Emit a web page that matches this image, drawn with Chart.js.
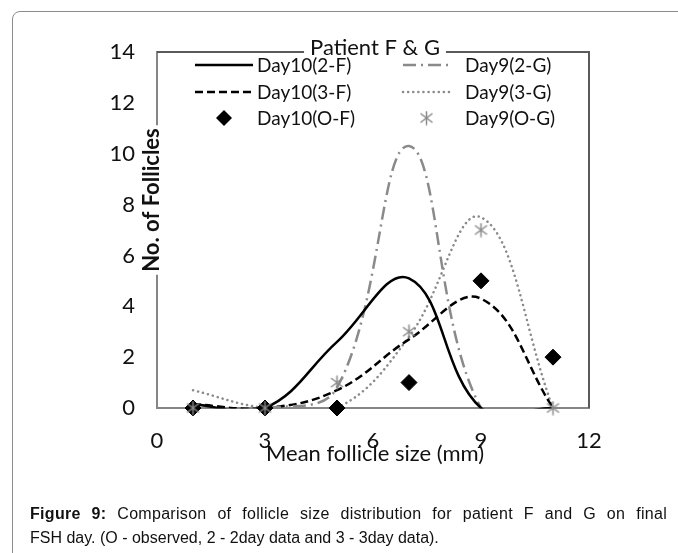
<!DOCTYPE html>
<html lang="en">
<head>
    <meta charset="UTF-8">
    <title>Figure 9 - Follicle size distribution, patient F and G</title>
    <script src="https://cdn.jsdelivr.net/npm/chart.js"></script>
    <style>
        html, body {
            margin: 0;
            padding: 0;
            background: #fff;
            width: 678px;
            height: 553px;
            overflow: hidden;
        }
        .card {
            position: absolute;
            left: 12px;
            top: 11px;
            width: 800px;
            height: 700px;
            border: 1px solid #8c8c8c;
            border-top-left-radius: 8px;
        }
        #follicleChart {
            position: absolute;
            left: 0;
            top: 0;
        }
        .caption {
            position: absolute;
            left: 30px;
            top: 502px;
            width: 637px;
            font-family: "Liberation Sans", Arial, sans-serif;
            font-size: 16px;
            line-height: 24px;
            color: #111;
        }
        .caption .l1 {
            display: block;
            text-align: justify;
            text-align-last: justify;
            white-space: nowrap;
            letter-spacing: 0.3px;
        }
    </style>
</head>
<body>
<div class="card"></div>
<canvas id="follicleChart" width="678" height="553"></canvas>
<div class="caption"><span class="l1"><b>Figure 9:</b> Comparison of follicle size distribution for patient F and G on final</span>FSH day. (O - observed, 2 - 2day data and 3 - 3day data).</div>

<script>
    // mean follicle size (mm) and follicle counts
    const sizes = [1, 3, 5, 7, 9, 11];
    const day10_2F = [0.15, 0, 2.6, 5.1, 0, 0];
    const day10_3F = [0.15, 0, 0.7, 2.7, 4.3, 0];
    const day9_2G = [0, 0, 0.8, 10.3, 0, 0];
    const day9_3G = [0.7, 0, 0, 2.8, 7.5, 0];
    const day10_OF = [0, 0, 0, 1, 5, 2];
    const day9_OG = [0, 0, 1, 3, 7, 0];

    const xTicks = [0, 3, 6, 9, 12];
    const yTicks = [0, 2, 4, 6, 8, 10, 12, 14];

    const chartTitle = 'Patient F & G';
    const xTitle = 'Mean follicle size (mm)';
    const yTitle = 'No. of Follicles';

    const fontFamily = 'Lato, "Open Sans", sans-serif';
    const grey = '#8a8a8a';

    const pts = ys => sizes.map((x, i) => ({ x: x, y: ys[i] }));

    // asterisk marker like the excel "star" (vertical bar + X)
    const starMarker = document.createElement('canvas');
    starMarker.width = 15;
    starMarker.height = 15;
    (function () {
        const c = starMarker.getContext('2d');
        c.strokeStyle = grey;
        c.lineWidth = 1.5;
        c.beginPath();
        c.moveTo(7.5, 0.5); c.lineTo(7.5, 14.5);
        c.moveTo(1.5, 3); c.lineTo(13.5, 12);
        c.moveTo(13.5, 3); c.lineTo(1.5, 12);
        c.stroke();
    })();

    const lineClip = { left: 3, top: 3, right: 3, bottom: 0.5 };

    const datasets = [
        {
            label: 'Day10(2-F)', data: pts(day10_2F),
            borderColor: '#000', borderWidth: 2.5, tension: 0.4,
            pointRadius: 0, clip: lineClip, order: 3
        },
        {
            label: 'Day9(2-G)', data: pts(day9_2G),
            borderColor: grey, borderWidth: 2.5, tension: 0.4,
            borderDash: [13, 5, 2, 5],
            pointRadius: 0, clip: lineClip, order: 4
        },
        {
            label: 'Day10(3-F)', data: pts(day10_3F),
            borderColor: '#000', borderWidth: 2.5, tension: 0.4,
            borderDash: [8, 4],
            pointRadius: 0, clip: lineClip, order: 5
        },
        {
            label: 'Day9(3-G)', data: pts(day9_3G),
            borderColor: grey, borderWidth: 2.5, tension: 0.4,
            borderDash: [0.1, 5], borderCapStyle: 'round',
            pointRadius: 0, clip: lineClip, order: 6
        },
        {
            label: 'Day10(O-F)', data: pts(day10_OF),
            showLine: false, pointStyle: 'rectRot', pointRadius: 8,
            backgroundColor: '#000', borderColor: '#000', borderWidth: 1,
            clip: false, order: 2
        },
        {
            label: 'Day9(O-G)', data: pts(day9_OG),
            showLine: false, pointStyle: starMarker, pointRadius: 7,
            backgroundColor: grey, borderColor: grey,
            clip: false, order: 1
        }
    ];

    // frame, titles and the two-column legend the way excel laid them out
    const decorPlugin = {
        id: 'decor',
        beforeDatasetsDraw(chart) {
            const ctx = chart.ctx;
            const a = chart.chartArea;
            ctx.save();
            ctx.strokeStyle = '#5a5a5a';
            ctx.lineWidth = 2;
            ctx.beginPath();
            ctx.moveTo(a.left, a.top);
            ctx.lineTo(a.right, a.top);
            ctx.lineTo(a.right, a.bottom);
            ctx.stroke();
            ctx.restore();
        },
        afterDraw(chart) {
            const ctx = chart.ctx;
            const a = chart.chartArea;
            const cx = 375;
            ctx.save();

            // title over the top border
            ctx.font = '22px ' + fontFamily;
            ctx.textBaseline = 'middle';
            ctx.textAlign = 'center';
            const tw = ctx.measureText(chartTitle).width;
            ctx.fillStyle = '#fff';
            ctx.fillRect(cx - tw / 2 - 6, a.top - 4, tw + 12, 8);
            ctx.fillStyle = '#111';
            ctx.fillText(chartTitle, cx, a.top - 4);

            // y title sitting on the axis line
            ctx.font = 'bold 22px ' + fontFamily;
            const yw = ctx.measureText(yTitle).width;
            const ymid = 200;
            ctx.fillStyle = '#fff';
            ctx.fillRect(a.left - 16, ymid - yw / 2 - 3, 20, yw + 6);
            ctx.translate(a.left - 5, ymid);
            ctx.rotate(-Math.PI / 2);
            ctx.fillStyle = '#111';
            ctx.fillText(yTitle, 0, 0);
            ctx.setTransform(1, 0, 0, 1, 0, 0);

            // x title overlapping the tick labels
            ctx.font = '22px ' + fontFamily;
            ctx.fillStyle = '#111';
            ctx.fillText(xTitle, cx, 454);

            // legend
            const rows = [65, 92, 118];
            const cols = [
                { x0: 195, x1: 253, tx: 257 },
                { x0: 403, x1: 450, tx: 465 }
            ];
            const order = [[0, 1], [2, 3], [4, 5]];
            ctx.font = '19px ' + fontFamily;
            ctx.textAlign = 'left';
            order.forEach((pair, r) => {
                pair.forEach((di, c) => {
                    const ds = chart.data.datasets[di];
                    const col = cols[c];
                    const y = rows[r];
                    if (ds.showLine === false) {
                        const mx = (col.x0 + col.x1) / 2;
                        if (ds.pointStyle === 'rectRot') {
                            ctx.fillStyle = ds.backgroundColor;
                            ctx.beginPath();
                            ctx.moveTo(mx, y - 8);
                            ctx.lineTo(mx + 8, y);
                            ctx.lineTo(mx, y + 8);
                            ctx.lineTo(mx - 8, y);
                            ctx.closePath();
                            ctx.fill();
                        } else {
                            ctx.drawImage(ds.pointStyle, mx - 7.5, y - 7.5);
                        }
                    } else {
                        ctx.strokeStyle = ds.borderColor;
                        ctx.lineWidth = ds.borderWidth;
                        ctx.lineCap = ds.borderCapStyle || 'butt';
                        ctx.setLineDash(ds.borderDash || []);
                        ctx.beginPath();
                        ctx.moveTo(col.x0, y);
                        ctx.lineTo(col.x1, y);
                        ctx.stroke();
                        ctx.setLineDash([]);
                    }
                    ctx.fillStyle = '#111';
                    ctx.fillText(ds.label, col.tx, y + 1);
                });
            });
            ctx.restore();
        }
    };

    const chartConfig = {
        type: 'line',
        data: { datasets: datasets },
        options: {
            responsive: false,
            animation: false,
            devicePixelRatio: 1,
            elements: { line: { capBezierPoints: false } },
            layout: { padding: { left: 0, top: 52, right: 89, bottom: 0 } },
            plugins: {
                legend: { display: false },
                tooltip: { enabled: false }
            },
            scales: {
                x: {
                    type: 'linear',
                    min: 0,
                    max: 12,
                    afterBuildTicks: s => { s.ticks = xTicks.map(v => ({ value: v })); },
                    afterFit: s => { s.height = 145; },
                    grid: { display: false, drawTicks: false },
                    border: { display: true, color: '#868686', width: 2 },
                    ticks: {
                        padding: 20,
                        color: '#111',
                        font: { family: fontFamily, size: 22 }
                    }
                },
                y: {
                    min: 0,
                    max: 14,
                    afterBuildTicks: s => { s.ticks = yTicks.map(v => ({ value: v })); },
                    afterFit: s => { s.width = 157; },
                    grid: { display: false, drawTicks: false },
                    border: { display: true, color: '#868686', width: 2 },
                    ticks: {
                        padding: 22,
                        color: '#111',
                        font: { family: fontFamily, size: 22 }
                    }
                }
            }
        },
        plugins: [decorPlugin]
    };

    const follicleChartCanvas = document.getElementById('follicleChart');
    const follicleChart = new Chart(follicleChartCanvas.getContext('2d'), chartConfig);
</script>
</body>
</html>
